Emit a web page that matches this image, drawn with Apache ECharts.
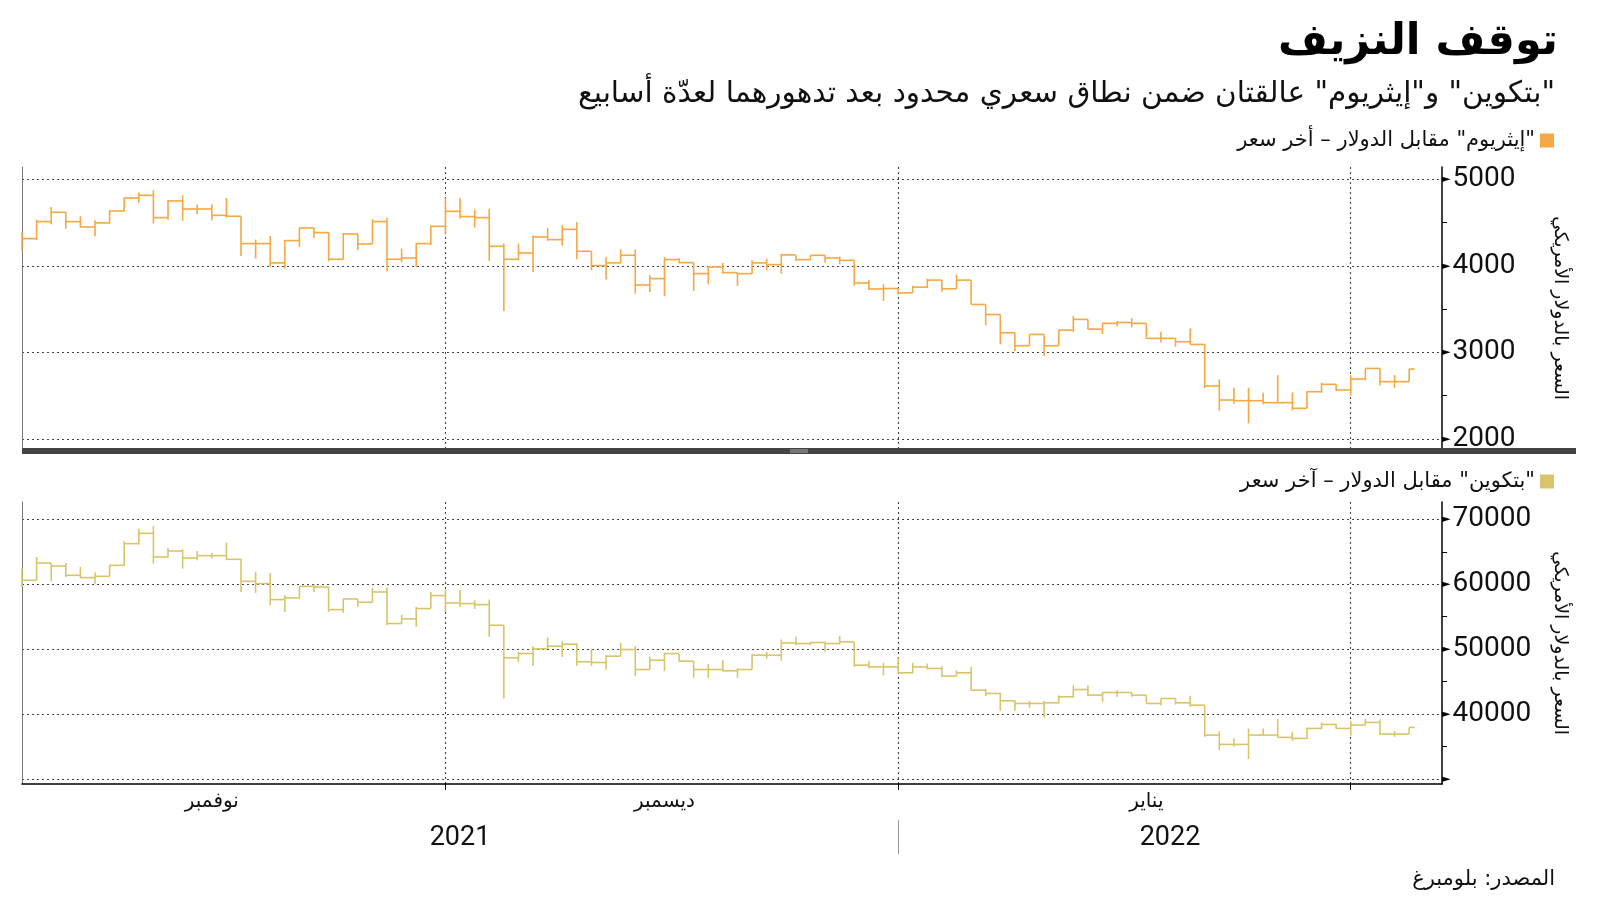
<!DOCTYPE html>
<html><head><meta charset="utf-8">
<script src="https://cdn.jsdelivr.net/npm/echarts@6/dist/echarts.min.js"></script>
<style>html,body{margin:0;padding:0;background:#fff}#c{width:1600px;height:901px}</style>
</head><body><div id="c"></div>
<script>
// ---------- DATA ----------
const titleText = 'توقف النزيف';
const subtitleText = '\u200F"بتكوين" و"إيثريوم" عالقتان ضمن نطاق سعري محدود بعد تدهورهما لعدّة أسابيع';
const sourceText = 'المصدر: بلومبرغ';
const ethName = '\u200F"إيثريوم" مقابل الدولار – أخر سعر';
const btcName = '\u200F"بتكوين" مقابل الدولار – آخر سعر';
const yAxisName = 'السعر بالدولار الأمريكي';

const firstDay = [2021, 10, 2];            // 2 Nov 2021, daily bars
const lastBarEnd = [2022, 1, 5, 9];        // latest (partial) bar ends 5 Feb 2022 09:00
const axisStart = [2021, 10, 2];
const axisEnd = [2022, 1, 7, 6];

const ethClose = [4315,4511,4619,4511,4449,4496,4634,4784,4815,4557,4750,4657,4657,4584,4573,4257,4257,4034,4292,4438,4384,4076,4369,4253,4511,4076,4091,4257,4457,
  4630,4569,4557,4226,4076,4149,4334,4303,4422,4168,4003,4034,4122,3779,3853,4072,4037,3910,3987,3922,3910,4034,4014,4126,4072,4122,4091,4064,3802,3733,3738,
  3688,3754,3835,3735,3835,3554,3438,3227,3077,3208,3077,3258,3381,3269,3335,3346,3335,3162,3162,3123,3092,2612,2450,2442,2442,2419,2419,2354,2546,2631,2565,
  2692,2815,2662,2662,2808];
const ethHigh = [4392,4534,4680,4623,4573,4526,4640,4790,4846,4873,4765,4815,4707,4711,4784,4573,4303,4345,4300,4445,4411,4384,4380,4369,4542,4557,4199,4260,4465,
  4784,4784,4650,4661,4257,4257,4353,4438,4469,4507,4168,4103,4188,4188,3891,4103,4091,4037,3995,4034,3922,4064,4084,4141,4126,4122,4122,4107,4064,3840,3788,
  3745,3770,3850,3835,3900,3835,3554,3438,3227,3208,3208,3258,3419,3381,3342,3362,3396,3335,3240,3165,3277,3092,2688,2592,2592,2535,2738,2535,2554,2650,2631,
  2738,2815,2815,2738,2808];
const ethLow = [4172,4300,4480,4430,4440,4342,4490,4630,4726,4488,4534,4519,4596,4526,4557,4114,4084,3987,3968,4218,4322,4053,4076,4180,4253,3937,4045,3987,4240,
  4372,4546,4442,4057,3479,4064,3930,4290,4230,4076,3949,3841,4034,3679,3698,3648,4030,3710,3787,3910,3768,3910,3949,3910,4060,4072,4037,4020,3770,3720,3596,
  3670,3688,3745,3700,3735,3554,3315,3092,3015,3077,2958,3077,3238,3265,3211,3300,3288,3162,3115,3065,3092,2585,2327,2407,2181,2400,2419,2327,2354,2535,2558,
  2500,2677,2619,2588,2662];

const btcClose = [60615,63280,62820,61385,61030,61230,62920,66260,67850,64200,65130,64050,64410,64410,63850,60460,60100,57640,57900,59690,59590,56100,57740,57230,58820,53950,54670,56260,58260,
  57130,57030,56870,53690,48670,49330,50050,50460,50770,48050,47950,48920,49950,46870,48310,49330,48150,46870,46870,46670,46870,49080,49080,50970,50870,51030,50870,51130,47540,47280,47280,
  46360,47280,47030,45850,46360,43690,43180,42050,41640,41640,41740,42670,43790,42920,43330,43330,42920,41640,42410,41740,41380,36770,35330,35330,36770,36770,36410,36260,37790,38410,37790,
  38310,38720,36920,36920,37950];
const btcHigh = [62410,64200,63280,63280,62670,61850,62920,66670,68560,68970,65640,65390,65130,64820,66410,63850,61950,61740,58360,59690,59950,59590,57790,57740,59490,59490,55330,56510,58820,
  59180,59080,57540,57640,53690,49590,50460,51850,51230,50920,50050,49080,50970,50460,48820,49430,49330,48150,47750,48310,47020,49230,49590,51490,51900,51130,51130,52050,51130,48200,47900,
  48720,47900,47800,47380,46770,47280,43900,43280,42150,42050,42050,42870,44460,44460,43380,43690,43330,42920,42410,42410,42830,41380,37380,36260,37790,37790,39230,37280,37950,38720,38460,
  38920,39280,39180,37380,37950];
const btcLow = [59590,60615,60510,61130,60980,60100,61230,62920,66150,63180,64100,62410,63690,63990,63740,58820,58670,56770,55740,57800,58820,55740,55590,56500,57230,53690,53950,53440,56260,
  55740,56510,56200,51900,42410,48000,47430,50050,48820,47430,47430,46820,49850,45850,46870,46620,48050,45590,45590,46620,45590,46870,48560,48200,50620,50620,49590,50770,47280,47020,46000,
  46250,46250,46920,45750,45850,43590,42770,40510,40510,41000,39490,41640,42560,42770,41840,42670,42670,41640,41380,41460,41130,36510,34420,34980,33080,36670,36410,35880,36160,37690,37740,
  36670,38410,36770,36510,36920];

const ethTicks = [2000, 3000, 4000, 5000];
const ethMinorTicks = [2500, 3500, 4500];
const ethRange = [1884, 5142];
const btcTicks = [30000, 40000, 50000, 60000, 70000];
const btcMinorTicks = [35000, 45000, 55000, 65000];
const btcRange = [29230, 72680];
const btcHiddenLabels = [30000];

const monthStarts = [[2021, 11, 1], [2022, 0, 1], [2022, 1, 1]];
const monthLabelAt = [[2021, 10, 15], [2021, 11, 16], [2022, 0, 18]];
const monthNames = { 10: 'نوفمبر', 11: 'ديسمبر', 0: 'يناير' };
const yearBreak = [2022, 0, 1];

// ---------- BUILD ----------
const ts = a => new Date(a[0], a[1], a[2], a[3] || 0).getTime();
const dates = ethClose.map((_, i) => new Date(firstDay[0], firstDay[1], firstDay[2] + i).getTime());
const xMin = ts(axisStart), xMax = ts(axisEnd), lastEnd = ts(lastBarEnd);
const monthStartTs = monthStarts.map(ts);
const monthLabelTs = monthLabelAt.map(ts);
const breakTs = ts(yearBreak);
const yearLabelTs = [(xMin + breakTs) / 2, (breakTs + xMax) / 2];

const ETH_COLOR = '#F5A843';
const BTC_COLOR = '#D8C56A';
const AR = 'DejaVu Sans';
const NUM = 'Roboto';
const DOT = { type: [2, 3], color: '#444', width: 1.1 };

function makeSeries(name, close, high, low, color, xi, yi) {
  const data = close.map((c, i) => [dates[i], c, high[i], low[i], i + 1 < close.length ? dates[i + 1] : lastEnd, i > 0 ? close[i - 1] : c]);
  return {
    type: 'custom', name, xAxisIndex: xi, yAxisIndex: yi, data,
    itemStyle: { color },
    encode: { x: [0, 4], y: [1, 2, 3] },
    renderItem: (params, api) => {
      const t0 = api.value(0), t1 = api.value(4), c = api.value(1);
      const hi = Math.max(api.value(2), api.value(5), c);
      const lo = Math.min(api.value(3), api.value(5), c);
      const p0 = api.coord([t0, c]), p1 = api.coord([t1, c]);
      const pt = api.coord([t0, hi]), pb = api.coord([t0, lo]);
      return {
        type: 'group', children: [
          { type: 'line', shape: { x1: pt[0], y1: pt[1], x2: pb[0], y2: pb[1] }, style: { stroke: color, lineWidth: 1.6 } },
          { type: 'line', shape: { x1: p0[0], y1: p0[1], x2: p1[0], y2: p1[1] }, style: { stroke: color, lineWidth: 1.6 } }
        ]
      };
    }
  };
}

function yAxes(grid, range, ticks, minor, hidden) {
  return [
    {
      gridIndex: grid, type: 'value', position: 'right', min: range[0], max: range[1],
      axisLine: { show: true, lineStyle: { color: '#000', width: 1.5 } },
      axisTick: { show: false, customValues: ticks },
      axisLabel: {
        customValues: ticks, margin: 0, color: '#111', fontFamily: NUM, fontSize: 28,
        formatter: v => hidden.indexOf(v) >= 0 ? '{t|►}' : '{t|►}' + v,
        rich: { t: { fontSize: 11, color: '#000', fontFamily: 'DejaVu Sans', padding: [0, 2, 0, 0], verticalAlign: 'middle' } }
      },
      splitLine: { show: true, lineStyle: DOT },
      name: yAxisName, nameLocation: 'middle', nameRotate: -90, nameGap: 108,
      nameTextStyle: { fontFamily: AR, fontSize: 19, color: '#111' }
    },
    {
      gridIndex: grid, type: 'value', position: 'right', min: range[0], max: range[1],
      axisLine: { show: false },
      axisTick: { show: true, customValues: minor, length: 5, lineStyle: { color: '#000', width: 1 } },
      axisLabel: { show: false }, splitLine: { show: false }
    },
    {
      gridIndex: grid, type: 'value', position: 'left', min: range[0], max: range[1],
      axisLine: { show: true, lineStyle: { color: '#777', width: 1 } },
      axisTick: { show: false }, axisLabel: { show: false }, splitLine: { show: false }
    }
  ];
}

const option = {
  animation: false,
  backgroundColor: '#fff',
  title: [
    { text: titleText, right: 37, top: 16, textStyle: { fontFamily: AR, fontSize: 43, fontWeight: 'bold', color: '#000' } },
    { text: subtitleText, right: 40, top: 74, textStyle: { fontFamily: AR, fontSize: 29.5, fontWeight: 'normal', color: '#111' } },
    { text: sourceText, right: 40, top: 864, textStyle: { fontFamily: AR, fontSize: 21, fontWeight: 'normal', color: '#111' } }
  ],
  legend: [
    { data: [ethName], right: 41, top: 125, align: 'right', icon: 'rect', itemWidth: 14, itemHeight: 14, selectedMode: false,
      textStyle: { fontFamily: AR, fontSize: 21, color: '#111' } },
    { data: [btcName], right: 41, top: 466, align: 'right', icon: 'rect', itemWidth: 14, itemHeight: 14, selectedMode: false,
      textStyle: { fontFamily: AR, fontSize: 21, color: '#111' } }
  ],
  grid: [
    { left: 22, right: 158, top: 167, bottom: 452 },
    { left: 22, right: 158, top: 502, bottom: 117 }
  ],
  xAxis: [
    { gridIndex: 0, type: 'value', min: xMin, max: xMax, axisLine: { show: false },
      axisTick: { show: false, customValues: monthStartTs }, axisLabel: { show: false },
      splitLine: { show: true, lineStyle: DOT } },
    { gridIndex: 1, type: 'value', min: xMin, max: xMax,
      axisLine: { show: true, lineStyle: { color: '#000', width: 1.5 } },
      axisTick: { show: true, customValues: monthStartTs, length: 6, lineStyle: { color: '#000' } },
      axisLabel: { customValues: monthLabelTs, formatter: v => monthNames[new Date(v).getMonth()],
        fontFamily: AR, fontSize: 20, color: '#111', margin: 8 },
      splitLine: { show: true, lineStyle: DOT } },
    { gridIndex: 1, type: 'value', min: xMin, max: xMax, position: 'bottom', offset: 36,
      axisLine: { show: false },
      axisTick: { show: true, customValues: [breakTs], length: 34, lineStyle: { color: '#999' } },
      axisLabel: { customValues: yearLabelTs, formatter: v => String(new Date(v).getFullYear()),
        fontFamily: NUM, fontSize: 27, color: '#111', margin: 5 },
      splitLine: { show: false } }
  ],
  yAxis: [].concat(
    yAxes(0, ethRange, ethTicks, ethMinorTicks, []),
    yAxes(1, btcRange, btcTicks, btcMinorTicks, btcHiddenLabels)
  ),
  series: [
    makeSeries(ethName, ethClose, ethHigh, ethLow, ETH_COLOR, 0, 0),
    makeSeries(btcName, btcClose, btcHigh, btcLow, BTC_COLOR, 1, 3)
  ],
  graphic: [
    { type: 'rect', left: 22, top: 448, shape: { width: 1554, height: 6 }, style: { fill: '#444' }, z: 100 },
    { type: 'rect', left: 790, top: 449.5, shape: { width: 18, height: 1 }, style: { fill: '#aaa' }, z: 101 },
    { type: 'rect', left: 790, top: 451.5, shape: { width: 18, height: 1 }, style: { fill: '#aaa' }, z: 101 }
  ]
};

const chart = echarts.init(document.getElementById('c'), null, { renderer: 'canvas' });
chart.setOption(option);
</script></body></html>
